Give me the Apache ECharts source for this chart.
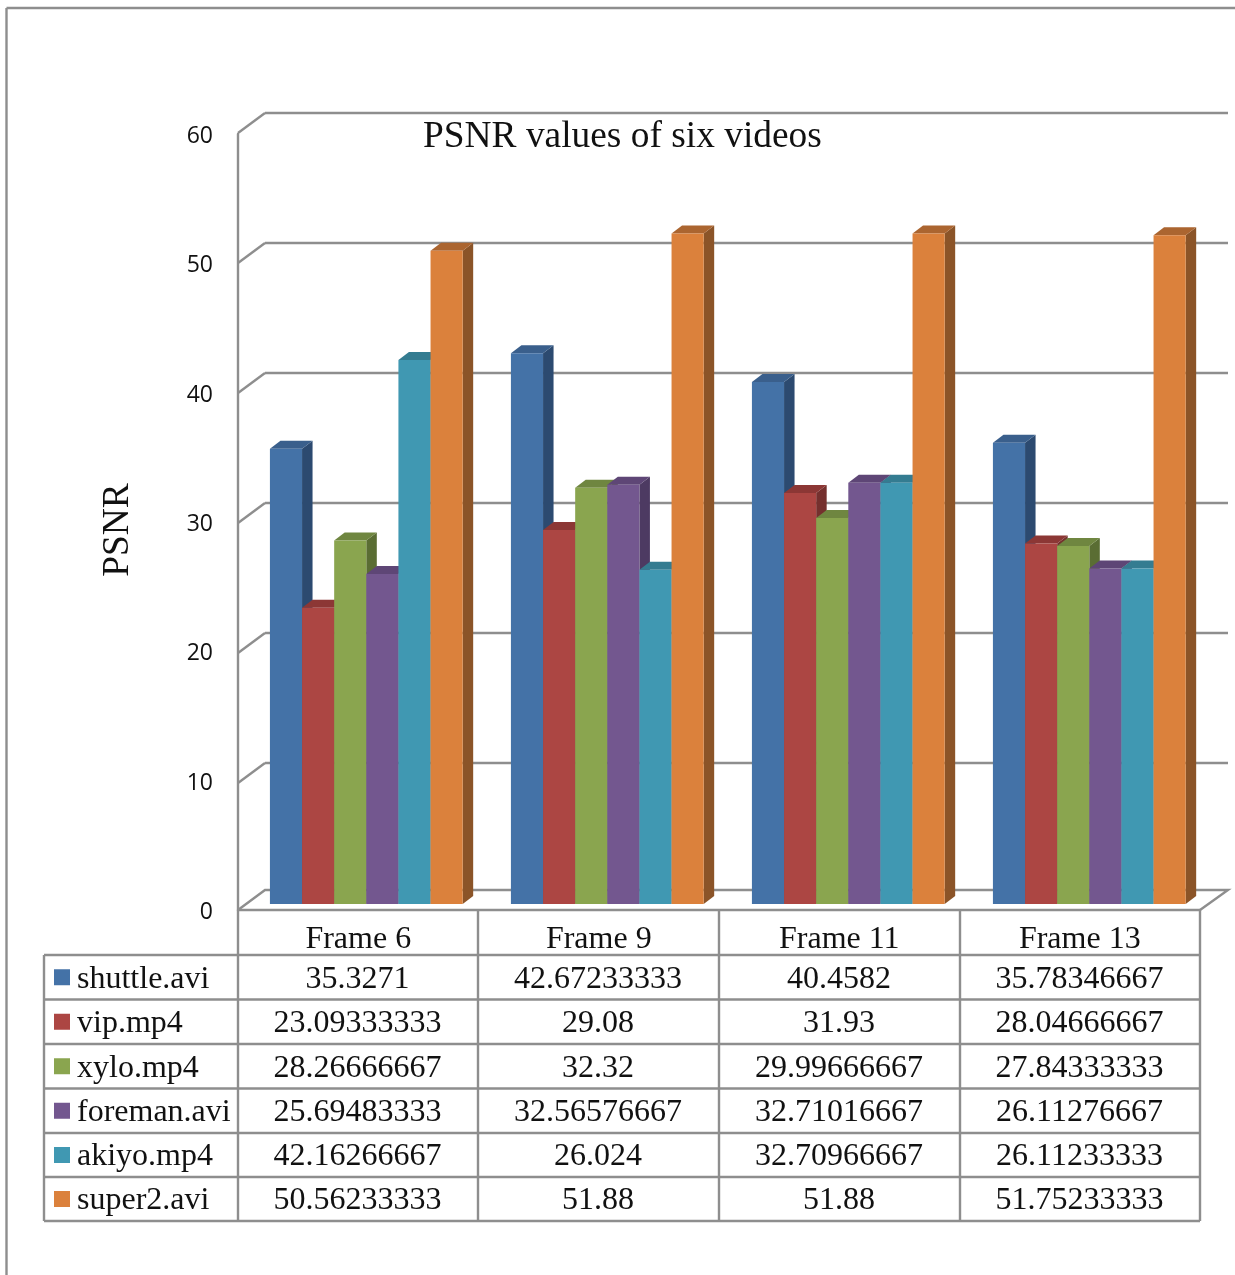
<!DOCTYPE html>
<html>
<head>
<meta charset="utf-8">
<style>
  html, body { margin: 0; padding: 0; background: #fff; }
  #main { width: 1235px; height: 1275px; }
</style>
<script src="https://cdn.jsdelivr.net/npm/echarts@6/dist/echarts.min.js"></script>
</head>
<body>
<div id="main"></div>
<script>
// 数据
const categories = ['Frame 6', 'Frame 9', 'Frame 11', 'Frame 13'];
const seriesNames = ['shuttle.avi', 'vip.mp4', 'xylo.mp4', 'foreman.avi', 'akiyo.mp4', 'super2.avi'];
const shuttle = [35.3271, 42.67233333, 40.4582, 35.78346667];
const vip = [23.09333333, 29.08, 31.93, 28.04666667];
const xylo = [28.26666667, 32.32, 29.99666667, 27.84333333];
const foreman = [25.69483333, 32.56576667, 32.71016667, 26.11276667];
const akiyo = [42.16266667, 26.024, 32.70966667, 26.11233333];
const super2 = [50.56233333, 51.88, 51.88, 51.75233333];
const seriesValues = [shuttle, vip, xylo, foreman, akiyo, super2];
const yTicks = [10, 20, 30, 40, 50, 60];

// 颜色: 正面, 顶面, 侧面
const frontColors = ['#4472A7', '#AC4643', '#8AA54F', '#73578F', '#4098B2', '#DB813C'];
const topColors = ['#3A5F8C', '#8C3735', '#6F8640', '#5E4676', '#347C91', '#AB6530'];
const sideColors = ['#2C4A70', '#75302E', '#5A6D33', '#4D3A62', '#2B677A', '#8B5428'];

const lineColor = '#8E8E8E';
const lineW = 2.4;
const serif = '"Liberation Serif", serif';
const barWidthRate = 0.1333;
const depthX = 10.5;
const depthY = 8;
const baseLift = 4; // 柱底比 0 刻度略高
const wallX = 27;
const wallY = 20;
const floorLift = 3; // 后墙底线比 0 刻度略高

// 表格位置
const colX = [44, 238, 478, 719, 960, 1200];
const rowY = [955, 999.5, 1044, 1088.5, 1133, 1177, 1221];

const line = (x1, y1, x2, y2) => ({
  type: 'line',
  shape: { x1, y1, x2, y2 },
  style: { stroke: lineColor, lineWidth: lineW },
  silent: true,
});
const text = (str, x, y, align) => ({
  type: 'text',
  x,
  y,
  silent: true,
  style: { text: str, font: '32px ' + serif, fill: '#111', textAlign: align, textVerticalAlign: 'middle' },
});

// 表格 + 外框
const buildGraphic = () => {
  const els = [];
  els.push(line(6.5, 8, 1235, 8), line(6.5, 8, 6.5, 1275));
  rowY.forEach((y) => els.push(line(44, y, 1200, y)));
  els.push(line(44, rowY[0], 44, rowY[6]));
  colX.slice(1).forEach((x) => els.push(line(x, 910, x, rowY[6])));
  seriesNames.forEach((name, r) => {
    const cy = (rowY[r] + rowY[r + 1]) / 2;
    els.push({
      type: 'rect',
      shape: { x: 54, y: cy - 8, width: 16, height: 16 },
      style: { fill: frontColors[r] },
      silent: true,
    });
    els.push(text(name, 77, cy + 2, 'left'));
    seriesValues[r].forEach((v, c) => {
      els.push(text(String(v), (colX[c + 1] + colX[c + 2]) / 2 - 0.5, cy + 2, 'center'));
    });
  });
  // 纵轴名称
  els.push({
    type: 'text',
    x: 118,
    y: 530,
    rotation: Math.PI / 2,
    silent: true,
    style: { text: 'PSNR', font: '37.4px ' + serif, fill: '#111', textAlign: 'center', textVerticalAlign: 'middle' },
  });
  return els;
};

// 3D 柱子
const renderBar = (params, api) => {
  const s = params.seriesIndex - 2;
  const band = api.size([1, 0])[0];
  const w = band * barWidthRate;
  const top = api.coord([api.value(0), api.value(1)]);
  const baseY = api.coord([api.value(0), 0])[1] - baseLift;
  const x = top[0] + (s - 3) * w;
  return {
    type: 'group',
    children: [
      {
        type: 'polygon',
        shape: { points: [[x + w, baseY], [x + w + depthX, baseY - depthY], [x + w + depthX, top[1] - depthY], [x + w, top[1]]] },
        style: { fill: sideColors[s] },
      },
      {
        type: 'polygon',
        shape: { points: [[x, top[1]], [x + depthX, top[1] - depthY], [x + w + depthX, top[1] - depthY], [x + w, top[1]]] },
        style: { fill: topColors[s] },
      },
      {
        type: 'rect',
        shape: { x, y: top[1], width: w, height: baseY - top[1] },
        style: { fill: frontColors[s] },
      },
    ],
  };
};

// 后墙到前轴的斜线
const renderDiagonal = (params, api) => {
  const p = api.coord([0, api.value(0)]);
  const x = p[0] - api.size([1, 0])[0] / 2;
  return {
    type: 'line',
    shape: { x1: x, y1: p[1], x2: x - wallX, y2: p[1] + wallY },
    style: { stroke: lineColor, lineWidth: lineW },
  };
};
// 地板: 后边线和两条斜边
const renderFloor = (params, api) => {
  const p = api.coord([0, 0]);
  const band = api.size([1, 0])[0];
  const y = p[1] - floorLift;
  const left = p[0] - band / 2;
  const right = left + band * categories.length;
  return {
    type: 'polyline',
    shape: { points: [[left - wallX, y + wallY], [left, y], [right, y], [right - wallX - 1, y + wallY]] },
    style: { stroke: lineColor, lineWidth: lineW, fill: 'none' },
  };
};

const hiddenX = (gridIndex) => ({
  type: 'category',
  gridIndex,
  data: categories,
  show: false,
});
const hiddenY = (gridIndex, splitShow) => ({
  type: 'value',
  gridIndex,
  min: 0,
  max: 60,
  interval: 10,
  axisLine: { show: false },
  axisTick: { show: false },
  axisLabel: { show: false },
  splitLine: { show: splitShow, showMinLine: false, lineStyle: { color: lineColor, width: lineW } },
});

const options = {
  animation: false,
  backgroundColor: '#fff',
  title: {
    text: 'PSNR values of six videos',
    left: 423,
    top: 119,
    padding: 0,
    textStyle: { fontFamily: serif, fontSize: 37.4, fontWeight: 'normal', color: '#111' },
  },
  grid: [
    // 前轴
    { left: 238, top: 134, width: 962, height: 776 },
    // 后墙
    { left: 265, top: 113, width: 963, height: 780 },
    // 柱子
    { left: 245.8, top: 128, width: 964, height: 780 },
  ],
  xAxis: [
    {
      type: 'category',
      gridIndex: 0,
      data: categories,
      axisLine: { show: true, lineStyle: { color: lineColor, width: lineW } },
      axisTick: { show: false },
      axisLabel: { margin: 14, fontFamily: serif, fontSize: 32, color: '#111', interval: 0 },
    },
    hiddenX(1),
    hiddenX(2),
  ],
  yAxis: [
    {
      type: 'value',
      gridIndex: 0,
      min: 0,
      max: 60,
      interval: 10,
      axisLine: { show: true, lineStyle: { color: lineColor, width: lineW } },
      axisTick: { show: false },
      splitLine: { show: false },
      axisLabel: {
        margin: 25,
        formatter: '{t|{value}}',
        rich: { t: { padding: [5, 0, 0, 0], fontFamily: 'Open Sans', fontSize: 23, color: '#111' } },
      },
    },
    hiddenY(1, true),
    hiddenY(2, false),
  ],
  series: [
    {
      type: 'custom',
      xAxisIndex: 1,
      yAxisIndex: 1,
      clip: false,
      silent: true,
      renderItem: renderDiagonal,
      encode: { y: 0 },
      data: yTicks.map((v) => [v]),
    },
    {
      type: 'custom',
      xAxisIndex: 1,
      yAxisIndex: 1,
      clip: false,
      silent: true,
      renderItem: renderFloor,
      data: [[0]],
    },
    ...seriesNames.map((name, i) => ({
      type: 'custom',
      name,
      xAxisIndex: 2,
      yAxisIndex: 2,
      clip: false,
      silent: true,
      renderItem: renderBar,
      encode: { x: 0, y: 1 },
      data: seriesValues[i].map((v, c) => [c, v]),
    })),
  ],
  graphic: buildGraphic(),
};

const myChart = echarts.init(document.getElementById('main'));
myChart.setOption(options);
</script>
</body>
</html>
